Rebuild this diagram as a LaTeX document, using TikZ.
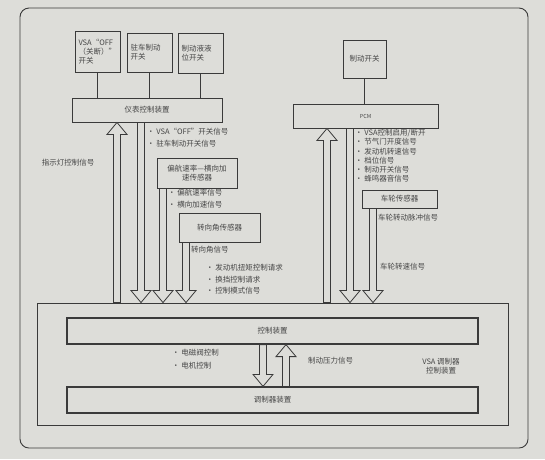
\documentclass[tikz,border=0pt]{standalone}
\usepackage{fontspec}
\setmainfont{Noto Sans CJK SC}
\usepackage{tikz}
\usetikzlibrary{calc}
\usetikzlibrary{positioning}

\definecolor{paper}{RGB}{221,221,217}
\definecolor{ink}{RGB}{58,58,58}
\definecolor{txt}{RGB}{70,70,70}

% hollow signal arrows: x, tail anchor, head anchor
\newcommand{\sigdown}[3]{%
  \path[hollow] let \p1=(#2), \p2=(#3) in
    (#1pt-3.5pt,\y1) -- (#1pt-3.5pt,\y2+12pt) -- (#1pt-10pt,\y2+12pt) -- (#1pt,\y2)
    -- (#1pt+10pt,\y2+12pt) -- (#1pt+3.5pt,\y2+12pt) -- (#1pt+3.5pt,\y1) -- cycle;}
\newcommand{\sigup}[3]{%
  \path[hollow] let \p1=(#2), \p2=(#3) in
    (#1pt-3.5pt,\y1) -- (#1pt-3.5pt,\y2-12pt) -- (#1pt-10pt,\y2-12pt) -- (#1pt,\y2)
    -- (#1pt+10pt,\y2-12pt) -- (#1pt+3.5pt,\y2-12pt) -- (#1pt+3.5pt,\y1) -- cycle;}

\begin{document}
\begin{tikzpicture}[x=1pt, y=-1pt,
    box/.style={draw=ink, line width=0.9pt, fill=paper, inner sep=2pt, text=txt,
      font=\fontsize{7.5}{9}\selectfont},
    sw/.style={box, align=left, text width=38pt},
    bar/.style={box, line width=1.2pt},
    hollow/.style={draw=ink, line width=0.8pt, fill=paper, line join=miter},
    lbl/.style={text=txt, inner sep=0pt, anchor=west, align=left,
      font=\fontsize{7.5}{9}\selectfont},
    wire/.style={draw=ink, line width=0.7pt}]
    \useasboundingbox (0,0) rectangle (545,459);
    \fill[paper] (0,0) rectangle (545,459);
    \draw[ink, line width=0.9pt, rounded corners=9pt] (20,8) rectangle (528,448);

    % switches and meter unit
    \node[sw, minimum width=45, minimum height=41] (vsaoff) at (97.5,51.5) {VSA“OFF\\（关断）”\\开关};
    \node[sw, minimum width=45, minimum height=39] (pbsw) at (149.5,52.5) {驻车制动\\开关};
    \node[sw, minimum width=45, minimum height=40] (fluidsw) at (200.5,53) {制动液液\\位开关};
    \node[box, minimum width=150, minimum height=24] (meter) at (147,110) {仪表控制装置};

    % brake switch and PCM
    \node[box, minimum width=43, minimum height=38] (brksw) at (364.5,59) {制动开关};
    \node[box, minimum width=145, minimum height=24, font=\fontsize{5.5}{7}\selectfont] (pcm) at (365.5,116) {PCM};

    % sensors
    \node[box, minimum width=80, minimum height=30, align=center] (yaw) at (197,173) {偏航速率—横向加\\速传感器};
    \node[box, minimum width=81, minimum height=29] (steer) at (219.5,227.5) {转向角传感器};
    \node[box, minimum width=75, minimum height=18] (wheel) at (399.5,199) {车轮传感器};

    % VSA modulator control unit
    \node[box, minimum width=471, minimum height=122] (vsa) at (272.5,364) {};
    \node[bar, minimum width=411, minimum height=26] (ctrl) at (272.5,331) {控制装置};
    \node[bar, minimum width=411, minimum height=26] (mod) at (272.5,400) {调制器装置};

    \draw[wire] (vsaoff.south) -- (vsaoff.south |- meter.north);
    \draw[wire] (pbsw.south) -- (pbsw.south |- meter.north);
    \draw[wire] (fluidsw.south) -- (fluidsw.south |- meter.north);
    \draw[wire] (brksw.south) -- (brksw.south |- pcm.north);

    \sigup{117}{vsa.north}{meter.south}
    \sigdown{141}{meter.south}{vsa.north}
    \sigdown{163}{yaw.south}{vsa.north}
    \sigdown{186}{steer.south}{vsa.north}
    \sigup{327}{vsa.north}{pcm.south}
    \sigdown{350}{pcm.south}{vsa.north}
    \sigdown{373}{wheel.south}{vsa.north}
    \sigdown{263}{ctrl.south}{mod.north}
    \sigup{286}{mod.north}{ctrl.south}

    % signal labels
    \node[lbl, anchor=center] (lamp) at (68,163) {指示灯控制信号};
    \node[lbl] (meteroutA) at (147,132) {• VSA“OFF”开关信号};
    \node[lbl] (meteroutB) at (147,144) {• 驻车制动开关信号};
    \node[lbl] (yawoutA) at (168,193) {• 偏航速率信号};
    \node[lbl] (yawoutB) at (168,205) {• 横向加速信号};
    \node[lbl] (steerout) at (191,250) {转向角信号};
    \node[lbl] (reqA) at (206,268) {• 发动机扭矩控制请求};
    \node[lbl] (reqB) at (206,280) {• 换挡控制请求};
    \node[lbl] (reqC) at (206,291) {• 控制模式信号};
    \node[lbl] (pcmA) at (355,133) {• VSA控制启用/断开};
    \node[lbl] (pcmB) at (355,142) {• 节气门开度信号};
    \node[lbl] (pcmC) at (355,152) {• 发动机转速信号};
    \node[lbl] (pcmD) at (355,161) {• 档位信号};
    \node[lbl] (pcmE) at (355,170) {• 制动开关信号};
    \node[lbl] (pcmF) at (355,179) {• 蜂鸣器音信号};
    \node[lbl] (pulse) at (378,218) {车轮转动脉冲信号};
    \node[lbl] (speed) at (380,267) {车轮转速信号};
    \node[lbl] (valveA) at (172,353) {• 电磁阀控制};
    \node[lbl] (valveB) at (172,366) {• 电机控制};
    \node[lbl] (press) at (308,361) {制动压力信号};
    \node[lbl, anchor=center, align=center] (vsaname) at (441,366) {VSA 调制器\\控制装置};
\end{tikzpicture}
\end{document}
